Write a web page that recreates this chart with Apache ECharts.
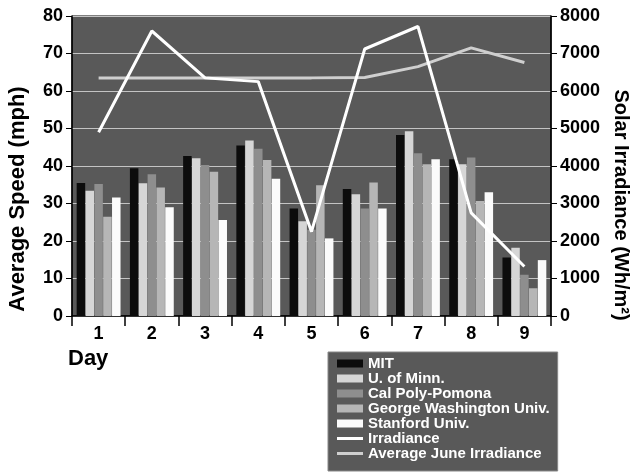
<!DOCTYPE html>
<html><head><meta charset="utf-8">
<script src="https://cdn.jsdelivr.net/npm/echarts@6/dist/echarts.min.js"></script>
<style>html,body{margin:0;padding:0;background:#fff}#c{width:635px;height:473px}</style>
</head><body><div id="c"></div>
<script>
var days = ['1','2','3','4','5','6','7','8','9'];
var speedTicks = [0,10,20,30,40,50,60,70,80];
var irrTicks = [0,1000,2000,3000,4000,5000,6000,7000,8000];
var mit = [35.5, 39.4, 42.7, 45.5, 28.7, 33.9, 48.3, 41.8, 15.6];
var minn = [33.4, 35.4, 42.1, 46.8, 25.3, 32.5, 49.3, 40.5, 18.2];
var calPoly = [35.2, 37.8, 40.3, 44.6, 23.0, 28.7, 43.4, 42.3, 11.0];
var gwu = [26.5, 34.3, 38.5, 41.6, 34.9, 35.6, 40.5, 30.7, 7.4];
var stanford = [31.6, 29.0, 25.6, 36.6, 20.7, 28.7, 41.8, 33.0, 14.9];
var irradiance = [4900, 7600, 6350, 6250, 2250, 7120, 7720, 2750, 1320];
var avgJune = [6350, 6350, 6350, 6350, 6350, 6360, 6650, 7150, 6760];
var names = ['MIT','U. of Minn.','Cal Poly-Pomona','George Washington Univ.','Stanford Univ.','Irradiance','Average June Irradiance'];

var FONT = '"Liberation Sans", Arial, Helvetica, sans-serif';
var chart = echarts.init(document.getElementById('c'), null, {renderer:'canvas'});
function bar(name, data, color){
  return {name:name, type:'bar', data:data, barWidth:8.5, barGap:'4%',
    itemStyle:{color:color}, yAxisIndex:0, z:2};
}
var lineIcon = 'path://M0,0 L26,0 L26,3 L0,3 Z';
chart.setOption({
  animation:false,
  backgroundColor:'#ffffff',
  grid:{left:72, right:84, top:16, bottom:157, show:true, backgroundColor:'#595959', borderColor:'#000', borderWidth:1},
  legend:{
    orient:'vertical', left:328, top:352,
    padding:[4,8,10,9],
    backgroundColor:'#595959', borderColor:'#888', borderWidth:1,
    itemWidth:26, itemHeight:8, itemGap:0,
    textStyle:{color:'#ffffff', fontFamily:FONT, fontWeight:'bold', fontSize:15, lineHeight:14.6},
    data:[
      {name:names[0], icon:'rect'},{name:names[1], icon:'rect'},{name:names[2], icon:'rect'},
      {name:names[3], icon:'rect'},{name:names[4], icon:'rect'},
      {name:names[5], icon:lineIcon},{name:names[6], icon:lineIcon}
    ]
  },
  xAxis:{type:'category', data:days, boundaryGap:true,
    axisLine:{lineStyle:{color:'#000', width:1.5}},
    axisTick:{show:true, length:10, lineStyle:{color:'#000', width:1.5}},
    axisLabel:{color:'#000', fontFamily:FONT, fontWeight:'bold', fontSize:18, margin:9},
    splitLine:{show:false}
  },
  yAxis:[
    {type:'value', min:speedTicks[0], max:speedTicks[speedTicks.length-1], interval:10, position:'left',
      axisLine:{show:true, lineStyle:{color:'#000', width:1.5}},
      axisTick:{show:true, length:6, lineStyle:{color:'#000'}},
      axisLabel:{color:'#000', fontFamily:FONT, fontWeight:'bold', fontSize:18, margin:9},
      splitLine:{show:true, lineStyle:{color:'#c4c4c4', width:1}}
    },
    {type:'value', min:irrTicks[0], max:irrTicks[irrTicks.length-1], interval:1000, position:'right',
      axisLine:{show:true, lineStyle:{color:'#000', width:1.5}},
      axisTick:{show:true, length:6, lineStyle:{color:'#000'}},
      axisLabel:{color:'#000', fontFamily:FONT, fontWeight:'bold', fontSize:18, margin:9,
        formatter:function(v){return String(v);}},
      splitLine:{show:false}
    }
  ],
  graphic:[
    {type:'text', x:18, y:199, rotation:Math.PI/2,
      style:{text:'Average Speed (mph)', fill:'#000', font:'bold 22px '+FONT, textAlign:'center', textVerticalAlign:'middle'}},
    {type:'text', x:621, y:205, rotation:-Math.PI/2,
      style:{text:'Solar Irradiance (Wh/m²)', fill:'#000', font:'bold 20px '+FONT, textAlign:'center', textVerticalAlign:'middle'}},
    {type:'text', x:68, y:359,
      style:{text:'Day', fill:'#000', font:'bold 22px '+FONT, textAlign:'left', textVerticalAlign:'middle'}}
  ],
  series:[
    bar(names[0], mit, '#0c0c0c'),
    bar(names[1], minn, '#d6d6d6'),
    bar(names[2], calPoly, '#8e8e8e'),
    bar(names[3], gwu, '#b6b6b6'),
    bar(names[4], stanford, '#fbfbfb'),
    {name:names[5], type:'line', yAxisIndex:1, data:irradiance, symbol:'none', z:5,
      lineStyle:{color:'#ffffff', width:3}, itemStyle:{color:'#ffffff'}},
    {name:names[6], type:'line', yAxisIndex:1, data:avgJune, symbol:'none', z:4,
      lineStyle:{color:'#cfcfcf', width:3}, itemStyle:{color:'#cfcfcf'}}
  ]
});
</script></body></html>
